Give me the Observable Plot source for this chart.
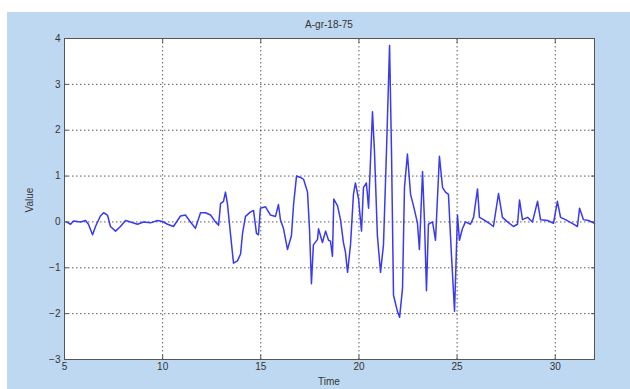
<!DOCTYPE html>
<html><head><meta charset="utf-8">
<script src="https://cdn.jsdelivr.net/npm/d3@7"></script>
<script src="https://cdn.jsdelivr.net/npm/@observablehq/plot@0.6"></script>
<style>
html,body{margin:0;padding:0;background:#fff;width:630px;height:389px;overflow:hidden;font-family:"Liberation Sans",Arial,sans-serif;}
#bg{position:absolute;left:7px;top:12px;width:623px;height:377px;background:#bfd8f1;}
#chart{position:absolute;left:0;top:0;}
.lbl{position:absolute;font-size:10px;color:#333;line-height:12px;}
#title{left:64px;width:530px;top:19px;text-align:center;}
#xlab{left:64px;width:530px;top:376px;text-align:center;}
#ylab{left:10px;top:194px;width:40px;text-align:center;transform:rotate(-90deg);}
</style></head><body>
<div id="bg"></div>
<div id="chart"></div>
<div class="lbl" id="title">A-gr-18-75</div>
<div class="lbl" id="xlab">Time</div>
<div class="lbl" id="ylab">Value</div>
<script>
const title = "A-gr-18-75";
const xTicks = [5, 10, 15, 20, 25, 30];
const yTicks = [-3, -2, -1, 0, 1, 2, 3, 4];
const time = [5.10,5.31,5.46,5.82,6.07,6.22,6.43,6.58,6.83,6.99,7.19,7.34,7.60,7.85,8.11,8.36,8.72,9.02,9.38,9.74,9.99,10.25,10.55,10.91,11.16,11.42,11.67,11.93,12.18,12.44,12.69,12.85,12.95,13.10,13.20,13.30,13.46,13.61,13.81,13.97,14.07,14.22,14.48,14.63,14.78,14.88,14.98,15.24,15.49,15.75,15.90,16.00,16.16,16.36,16.56,16.67,16.82,17.02,17.18,17.38,17.48,17.58,17.68,17.89,17.94,18.14,18.30,18.45,18.55,18.65,18.72,18.91,19.06,19.21,19.31,19.42,19.57,19.72,19.82,19.98,20.13,20.23,20.38,20.49,20.69,20.79,20.94,21.10,21.25,21.40,21.56,21.66,21.76,21.96,22.07,22.22,22.32,22.47,22.63,22.78,22.98,23.08,23.24,23.34,23.44,23.54,23.75,23.90,24.10,24.26,24.41,24.56,24.71,24.87,25.02,25.12,25.27,25.43,25.68,25.84,26.04,26.14,26.35,26.70,26.85,27.11,27.31,27.57,27.87,28.08,28.18,28.33,28.59,28.84,29.10,29.25,29.61,29.91,30.11,30.27,30.52,30.93,31.13,31.24,31.44,31.69,32.00];
const value = [0.00,-0.05,0.02,0.00,0.03,-0.05,-0.28,-0.10,0.13,0.20,0.15,-0.10,-0.20,-0.10,0.03,0.00,-0.05,0.00,-0.02,0.03,0.01,-0.05,-0.10,0.13,0.15,0.00,-0.14,0.20,0.20,0.15,0.00,-0.07,0.40,0.45,0.65,0.40,-0.28,-0.90,-0.85,-0.70,-0.25,0.12,0.22,0.25,-0.25,-0.28,0.30,0.33,0.15,0.12,0.38,0.05,-0.15,-0.60,-0.30,0.38,1.00,0.97,0.93,0.65,-0.15,-1.35,-0.50,-0.38,-0.15,-0.45,-0.20,-0.40,-0.42,-0.75,0.50,0.35,0.05,-0.45,-0.65,-1.10,-0.50,0.60,0.85,0.50,-0.20,0.75,0.85,0.30,2.40,1.55,-0.30,-1.10,-0.50,1.50,3.85,1.50,-1.60,-1.95,-2.08,-1.45,0.75,1.48,0.60,0.35,-0.02,-0.60,1.10,0.00,-1.50,-0.05,0.00,-0.40,1.43,0.75,0.65,0.60,-0.70,-1.95,0.15,-0.40,-0.15,0.00,-0.05,0.10,0.72,0.10,0.05,-0.05,-0.10,0.62,0.10,0.00,-0.10,-0.05,0.48,0.05,0.10,0.00,0.45,0.05,0.03,-0.03,0.45,0.10,0.05,-0.05,-0.10,0.30,0.05,0.03,-0.03];
const data = time.map((t, i) => ({t, v: value[i]}));
const gridStyle = {stroke: "#333", strokeOpacity: 0.8, strokeWidth: 1, strokeDasharray: "1.5,2.5"};
const chart = Plot.plot({
  width: 630, height: 389,
  marginLeft: 64, marginRight: 36, marginTop: 38, marginBottom: 30,
  style: {background: "transparent", fontFamily: "'Liberation Sans', Arial, sans-serif", fontSize: "10px", color: "#333"},
  x: {domain: [5, 32]},
  y: {domain: [-3, 4]},
  marks: [
    Plot.frame({fill: "white"}),
    Plot.gridX(xTicks.slice(1), gridStyle),
    Plot.gridY(yTicks.slice(1, -1), gridStyle),
    Plot.line(data, {x: "t", y: "v", stroke: "#3a3af0", strokeWidth: 1.5, strokeLinejoin: "round"}),
    Plot.axisX(xTicks, {tickSize: -4, tickPadding: 7, label: null, stroke: "#555"}),
    Plot.axisY(yTicks, {tickSize: -4, tickPadding: 8, label: null, stroke: "#555"}),
    Plot.axisX(xTicks, {anchor: "top", tickSize: -4, tickFormat: () => "", label: null, stroke: "#555"}),
    Plot.axisY(yTicks, {anchor: "right", tickSize: -4, tickFormat: () => "", label: null, stroke: "#555"}),
    Plot.frame({stroke: "#555", strokeWidth: 1})
  ]
});
document.getElementById("chart").append(chart);
</script>
</body></html>
